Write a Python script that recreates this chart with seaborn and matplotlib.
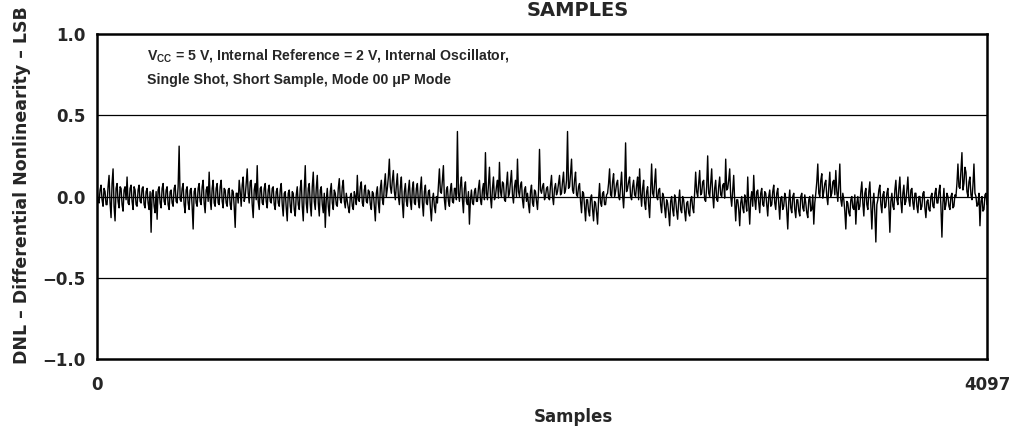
import numpy as np
import pandas as pd
import matplotlib.pyplot as plt
import seaborn as sns

# === DNL values, one value per ~4.6 samples ===
dnl_values = [
    0.05, -0.03, -0.04, 0.04, 0.07, -0.02, -0.06, 0.05, 0.03, -0.05,
    -0.05, 0.06, 0.13, -0.04, -0.13, 0.08, 0.17, -0.06, -0.15, 0.05,
    0.08, -0.03, -0.07, 0.06, 0.05, -0.05, -0.09, 0.04, 0.06, -0.02,
    0.12, -0.04, -0.05, 0.05, 0.07, -0.03, -0.08, 0.06, 0.04, -0.05,
    -0.06, 0.04, 0.07, -0.03, -0.04, 0.05, 0.06, -0.05, -0.07, 0.03,
    0.05, -0.04, -0.08, 0.03, -0.22, 0.02, 0.04, -0.06, -0.1, 0.03,
    -0.14, 0.04, 0.06, -0.04, -0.07, 0.05, 0.08, -0.03, -0.05, 0.04,
    0.06, -0.05, -0.08, 0.03, 0.04, -0.04, -0.06, 0.05, 0.07, -0.03,
    -0.04, 0.06, 0.31, -0.02, -0.03, 0.05, 0.08, -0.05, -0.1, 0.04,
    0.06, -0.04, -0.08, 0.04, 0.05, -0.06, -0.2, 0.03, 0.05, -0.04,
    -0.06, 0.05, 0.08, -0.03, -0.05, 0.06, 0.1, -0.04, -0.1, 0.04,
    0.06, -0.03, 0.15, -0.02, -0.08, 0.05, 0.1, -0.04, -0.06, 0.05,
    0.08, -0.04, -0.05, 0.06, 0.1, -0.03, -0.07, 0.05, 0.04, -0.04,
    -0.06, 0.04, 0.05, -0.05, -0.08, 0.04, 0.03, -0.06, -0.19, 0.02,
    0.02, -0.04, 0.1, 0.03, -0.06, 0.07, 0.12, -0.03, 0.0, 0.08,
    0.17, 0.02, -0.04, 0.09, 0.1, -0.05, -0.13, 0.04, 0.08, -0.02,
    0.19, -0.03, -0.08, 0.05, 0.06, -0.04, -0.05, 0.05, 0.08, -0.03,
    -0.07, 0.04, 0.07, -0.03, -0.04, 0.05, 0.06, -0.05, -0.08, 0.03,
    0.05, -0.04, -0.06, 0.04, 0.08, -0.05, -0.12, 0.02, 0.03, -0.07,
    -0.15, 0.02, 0.04, -0.06, -0.1, 0.03, 0.02, -0.08, -0.12, 0.01,
    0.06, -0.05, -0.08, 0.05, 0.1, -0.06, -0.15, 0.04, 0.19, -0.04,
    -0.1, 0.05, 0.08, -0.05, -0.12, 0.06, 0.15, -0.03, -0.08, 0.05,
    0.13, -0.04, -0.12, 0.04, 0.06, -0.05, -0.1, 0.02, -0.19, -0.02,
    0.05, -0.06, -0.12, 0.03, 0.08, -0.04, -0.08, 0.04, 0.02, -0.05,
    -0.06, 0.05, 0.11, -0.02, -0.04, 0.06, 0.1, -0.03, -0.07, 0.02,
    -0.03, -0.07, -0.1, 0.0, 0.02, -0.06, -0.08, 0.03, 0.0, -0.05,
    0.13, -0.02, -0.03, 0.06, 0.09, -0.04, -0.06, 0.04, 0.07, -0.03,
    -0.04, 0.04, 0.03, -0.05, -0.08, 0.03, 0.02, -0.06, -0.15, 0.02,
    0.06, -0.04, -0.1, 0.05, 0.1, -0.02, -0.05, 0.07, 0.14, 0.0,
    0.05, 0.12, 0.23, 0.06, 0.02, 0.1, 0.16, 0.03, -0.02, 0.07,
    0.14, 0.0, -0.05, 0.06, 0.12, -0.04, -0.13, 0.03, 0.08, -0.03,
    -0.06, 0.04, 0.1, -0.03, -0.08, 0.05, 0.09, -0.04, -0.05, 0.05,
    0.08, -0.03, -0.07, 0.05, 0.12, -0.04, -0.12, 0.03, 0.07, -0.04,
    -0.05, 0.03, 0.04, -0.07, -0.15, -0.02, 0.02, -0.06, -0.1, 0.0,
    -0.04, 0.06, 0.17, 0.03, 0.02, 0.1, 0.19, -0.02, -0.08, 0.04,
    0.06, -0.03, -0.06, 0.04, 0.08, -0.03, -0.04, 0.05, 0.05, -0.02,
    0.4, 0.02, -0.03, 0.07, 0.12, -0.02, -0.1, 0.05, 0.09, -0.03,
    -0.05, 0.03, -0.17, -0.02, 0.04, -0.04, -0.05, 0.03, 0.05, -0.03,
    -0.03, 0.05, 0.1, -0.02, -0.05, 0.04, 0.08, -0.02, 0.27, 0.02,
    -0.02, 0.07, 0.18, 0.0, -0.07, 0.05, 0.12, -0.02, 0.0, 0.06,
    0.1, -0.01, 0.21, 0.03, 0.0, 0.09, 0.08, -0.02, -0.03, 0.07,
    0.15, 0.0, 0.02, 0.09, 0.16, 0.01, -0.04, 0.06, 0.1, 0.0,
    0.23, 0.03, 0.0, 0.07, 0.09, -0.02, -0.07, 0.04, 0.06, -0.03,
    0.02, -0.05, -0.1, 0.03, 0.07, -0.04, -0.06, 0.04, 0.03, -0.03,
    -0.08, 0.03, 0.29, 0.04, 0.02, 0.06, 0.08, -0.02, 0.0, 0.05,
    0.06, -0.01, -0.02, 0.07, 0.13, 0.0, -0.05, 0.05, 0.08, 0.01,
    0.03, 0.08, 0.13, 0.01, 0.02, 0.09, 0.15, 0.02, 0.04, 0.1,
    0.4, 0.05, 0.06, 0.14, 0.23, 0.04, 0.02, 0.1, 0.15, 0.01,
    0.0, 0.06, 0.08, -0.03, -0.1, 0.03, 0.02, -0.06, -0.15, -0.02,
    -0.02, -0.09, -0.12, -0.01, 0.01, -0.08, -0.15, -0.03, -0.04, -0.1,
    -0.17, -0.02, 0.08, -0.04, -0.06, 0.02, 0.03, -0.05, -0.05, 0.01,
    0.02, 0.08, 0.17, 0.01, 0.0, 0.09, 0.14, 0.0, 0.03, 0.08,
    0.1, 0.0, -0.02, 0.07, 0.15, 0.01, -0.07, 0.05, 0.33, 0.03,
    0.05, 0.09, 0.12, 0.0, -0.02, 0.06, 0.1, 0.01, 0.0, 0.07,
    0.12, -0.02, 0.17, 0.02, -0.06, 0.05, 0.1, -0.04, -0.08, 0.03,
    0.06, -0.05, -0.13, 0.04, 0.2, 0.02, 0.0, 0.09, 0.17, 0.0,
    -0.02, 0.04, 0.05, -0.05, -0.1, 0.02, 0.0, -0.07, -0.13, -0.02,
    -0.04, -0.1, -0.18, -0.03, 0.0, -0.08, -0.12, 0.01, -0.02, -0.09,
    -0.14, -0.03, 0.04, -0.08, -0.1, 0.0, -0.02, -0.09, -0.15, -0.04,
    -0.03, -0.1, -0.12, -0.02, 0.0, -0.07, -0.1, 0.02, 0.15, 0.03,
    0.0, 0.08, 0.16, 0.01, 0.02, 0.09, 0.1, -0.02, -0.03, 0.06,
    0.25, 0.02, 0.0, 0.08, 0.17, 0.01, -0.07, 0.05, 0.1, -0.02,
    -0.03, 0.06, 0.12, 0.01, 0.0, 0.07, 0.08, -0.01, 0.23, 0.04,
    0.05, 0.1, 0.17, 0.0, -0.06, 0.04, 0.13, -0.03, -0.15, -0.02,
    -0.02, -0.08, -0.18, -0.04, 0.0, -0.07, -0.1, 0.01, -0.03, -0.09,
    0.12, -0.05, -0.17, -0.02, 0.03, -0.06, 0.13, -0.02, -0.08, 0.03,
    0.04, -0.04, -0.1, 0.02, 0.05, -0.05, -0.06, 0.03, 0.02, -0.05,
    -0.12, 0.0, 0.04, -0.06, -0.05, 0.03, 0.07, -0.04, -0.08, 0.02,
    0.05, -0.05, -0.14, -0.01, 0.0, -0.08, -0.06, 0.02, -0.01, -0.09,
    -0.2, -0.03, 0.04, -0.07, -0.1, 0.0, 0.02, -0.08, -0.13, -0.02,
    -0.02, -0.09, -0.12, 0.0, 0.02, -0.07, -0.09, 0.01, -0.04, -0.1,
    -0.13, -0.02, 0.0, -0.09, -0.08, 0.01, -0.17, -0.04, 0.02, 0.09,
    0.2, 0.02, 0.0, 0.1, 0.14, -0.01, 0.03, 0.08, 0.1, 0.0,
    -0.05, 0.06, 0.15, 0.0, 0.02, 0.09, 0.1, 0.01, 0.16, 0.03,
    -0.03, 0.07, 0.2, -0.02, -0.06, 0.02, -0.02, -0.09, -0.2, -0.03,
    -0.04, -0.1, -0.12, -0.02, 0.0, -0.07, -0.08, 0.01, -0.17, -0.04,
    0.0, -0.08, -0.06, 0.03, 0.09, -0.04, -0.12, 0.02, 0.05, -0.05,
    -0.08, 0.03, 0.09, -0.06, -0.2, -0.04, 0.02, -0.1, -0.28, -0.05,
    -0.02, 0.04, 0.07, -0.05, -0.1, 0.01, 0.03, -0.07, -0.06, 0.02,
    0.05, -0.06, -0.22, -0.03, 0.02, -0.06, -0.08, 0.04, 0.1, -0.02,
    -0.05, 0.05, 0.12, -0.03, -0.1, 0.02, 0.07, -0.05, -0.03, 0.04,
    0.12, -0.02, -0.06, 0.04, 0.05, -0.04, -0.08, 0.02, 0.02, -0.06,
    -0.1, 0.0, 0.0, -0.08, -0.06, 0.02, 0.03, -0.07, -0.13, -0.03,
    -0.02, -0.08, -0.09, 0.0, 0.02, -0.06, -0.07, 0.02, 0.05, -0.04,
    -0.04, 0.03, 0.07, -0.06, -0.25, -0.04, 0.05, -0.08, -0.05, 0.02,
    0.0, -0.06, -0.08, 0.0, 0.02, -0.07, -0.06, 0.01, 0.0, 0.08,
    0.2, 0.06, 0.05, 0.16, 0.27, 0.04, 0.08, 0.18, 0.15, 0.03,
    0.0, 0.09, 0.12, 0.01, -0.02, 0.07, 0.2, 0.02, 0.0, -0.06,
    -0.05, 0.02, -0.18, -0.03, 0.0, -0.09, -0.08, 0.01, 0.02, -0.05,
]
n_samples = 4097
y_ticks = [-1.0, -0.5, 0.0, 0.5, 1.0]
y_tick_labels = ["\u22121.0", "\u22120.5", "0.0", "0.5", "1.0"]
x_ticks = [0, 4097]
x_tick_labels = ["0", "4097"]

df = pd.DataFrame({
    "Sample": np.linspace(0, n_samples, len(dnl_values)),
    "DNL": dnl_values,
})

# === Style ===
sns.set_theme(style="white")
plt.rcParams["font.family"] = ["DejaVu Sans"]
plt.rcParams["font.weight"] = "bold"
plt.rcParams["mathtext.fontset"] = "custom"
plt.rcParams["mathtext.bf"] = "Liberation Sans:bold"
plt.rcParams["mathtext.rm"] = "Liberation Sans:bold"

fig = plt.figure(figsize=(10.13, 4.30), dpi=100)
ax = fig.add_axes([0.0958, 0.1651, 0.8785, 0.7558])

for y in [-0.5, 0.0, 0.5]:
    ax.axhline(y, color="black", lw=0.9, zorder=1)

sns.lineplot(data=df, x="Sample", y="DNL", color="black", lw=1.0, ax=ax, zorder=2)

ax.set_xlim(0, n_samples)
ax.set_ylim(-1.0, 1.0)
ax.set_yticks(y_ticks)
ax.set_yticklabels(y_tick_labels, fontsize=12, fontweight="bold")
ax.set_xticks(x_ticks)
ax.set_xticklabels(x_tick_labels, fontsize=12, fontweight="bold")
ax.tick_params(axis="both", length=0)
ax.tick_params(axis="x", pad=12)
ax.tick_params(axis="y", pad=8)

for spine in ax.spines.values():
    spine.set_color("black")
    spine.set_linewidth(1.8)

ax.set_xlabel("Samples", fontsize=12, fontweight="bold")
ax.xaxis.set_label_coords(0.535, -0.15)
ax.set_ylabel("DNL \u2013 Differential Nonlinearity \u2013 LSB", fontsize=12.5, fontweight="bold")
ax.yaxis.set_label_coords(-0.074, 0.535)

note_font = dict(family="Liberation Sans", fontsize=10.2, fontweight="bold", va="center")
ax.text(0.056, 0.933, r"V$_{\mathbf{CC}}$ = 5 V, Internal Reference = 2 V, Internal Oscillator,",
        transform=ax.transAxes, **note_font)
ax.text(0.056, 0.857, "Single Shot, Short Sample, Mode 00 \u03bcP Mode",
        transform=ax.transAxes, **note_font)

fig.text(578 / 1013, 1 - 10 / 430, "SAMPLES", ha="center", va="center",
         fontsize=14, fontweight="bold")

plt.savefig("out.png", dpi=100)
